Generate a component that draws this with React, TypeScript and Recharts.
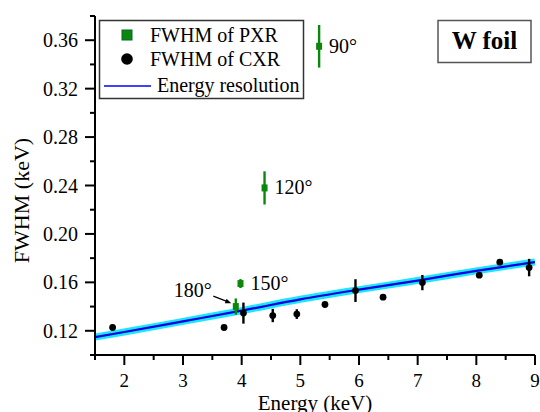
import React from 'react';
import { ComposedChart, XAxis, YAxis, Line, Scatter, ErrorBar } from 'recharts';

// --- CXR (characteristic X-rays) ---
const CXR_E = [1.8, 3.7, 4.03, 4.53, 4.94, 5.42, 5.94, 6.41, 7.08, 8.05, 8.4, 8.9];
const CXR_FWHM = [0.1227, 0.1227, 0.1346, 0.1326, 0.1338, 0.1417, 0.1532, 0.1478, 0.1598, 0.1659, 0.1767, 0.1722];
const CXR_ERR = [0, 0, 0.0087, 0.0055, 0.004, 0, 0.0094, 0, 0.0063, 0, 0, 0.0072];

// --- PXR (parametric X-rays) at four observation angles ---
const PXR_E = [5.32, 4.39, 3.98, 3.9];
const PXR_FWHM = [0.355, 0.238, 0.159, 0.14];
const PXR_ERR = [0.0176, 0.0137, 0.0037, 0.0067];
const PXR_ANGLE = ['90°', '120°', '150°', '180°'];

// --- detector energy resolution curve ---
const RES_E = [1.5, 2, 3, 4, 5, 6, 7, 8, 9];
const RES_FWHM = [0.1148, 0.119, 0.1278, 0.1366, 0.146, 0.154, 0.1615, 0.1695, 0.1768];

// --- ticks ---
const X_TICKS = [1.5, 2, 2.5, 3, 3.5, 4, 4.5, 5, 5.5, 6, 6.5, 7, 7.5, 8, 8.5, 9];
const X_LABELS = [2, 3, 4, 5, 6, 7, 8, 9];
const Y_TICKS = [0.1, 0.12, 0.14, 0.16, 0.18, 0.2, 0.22, 0.24, 0.26, 0.28, 0.3, 0.32, 0.34, 0.36, 0.38];
const Y_LABELS = [0.12, 0.16, 0.2, 0.24, 0.28, 0.32, 0.36];

const cxrData = CXR_E.map((x, i) => ({ x, y: CXR_FWHM[i], err: CXR_ERR[i] }));
const pxrData = PXR_E.map((x, i) => ({ x, y: PXR_FWHM[i], err: PXR_ERR[i], angle: PXR_ANGLE[i] }));
const resData = RES_E.map((x, i) => ({ x, y: RES_FWHM[i] }));

const FONT = 'Liberation Serif, DejaVu Serif, serif';
const GREEN = '#0b870b';

const isMajorX = (v: number) => X_LABELS.some(l => Math.abs(l - v) < 1e-9);
const isMajorY = (v: number) => Y_LABELS.some(l => Math.abs(l - v) < 1e-9);

const txt = { fill: '#000', style: { fontFamily: FONT } };

// ticks drawn by hand so majors/minors get different lengths, all pointing outwards
const BottomTick = ({ x, y, payload }: any) => {
  const major = isMajorX(payload.value);
  return (
    <g>
      <line x1={x} y1={y} x2={x} y2={y + (major ? 10 : 5)} stroke="#000" strokeWidth={2} />
      {major && (
        <text x={x} y={y + 31.5} textAnchor="middle" fontSize={19} {...txt}>
          {payload.value}
        </text>
      )}
    </g>
  );
};

const TopTick = ({ x, y, payload }: any) => {
  const major = isMajorX(payload.value);
  return <line x1={x} y1={y} x2={x} y2={y - (major ? 10 : 5)} stroke="#000" strokeWidth={2} />;
};

const LeftTick = ({ x, y, payload }: any) => {
  const major = isMajorY(payload.value);
  return (
    <g>
      <line x1={x} y1={y} x2={x - (major ? 10 : 5)} y2={y} stroke="#000" strokeWidth={2} />
      {major && (
        <text x={x - 17} y={y + 7} textAnchor="end" fontSize={20} {...txt}>
          {payload.value.toFixed(2)}
        </text>
      )}
    </g>
  );
};

const RightTick = ({ x, y, payload }: any) => {
  const major = isMajorY(payload.value);
  return <line x1={x} y1={y} x2={x + (major ? 10 : 5)} y2={y} stroke="#000" strokeWidth={2} />;
};

const CxrDot = ({ cx, cy }: any) => <circle cx={cx} cy={cy} r={3.4} fill="#000" />;

const PxrMark = ({ cx, cy, payload }: any) => {
  const is180 = payload.angle === '180°';
  return (
    <g>
      <rect x={cx - 3} y={cy - 3.5} width={6} height={7} fill={GREEN} />
      {is180 ? (
        <g>
          <text x={cx - 24} y={cy - 9.5} textAnchor="end" fontSize={20} {...txt}>
            {payload.angle}
          </text>
          <line x1={cx - 22.5} y1={cy - 10.5} x2={cx - 9} y2={cy - 5.3} stroke="#000" strokeWidth={1.3} />
          <polygon
            points={`${cx - 4.5},${cy - 3.4} ${cx - 11},${cy - 3.2} ${cx - 9.2},${cy - 7.8}`}
            fill="#000"
          />
        </g>
      ) : (
        <text x={cx + 10} y={cy + 6.5} fontSize={20} {...txt}>
          {payload.angle}
        </text>
      )}
    </g>
  );
};

const App: React.FC = () => {
  return (
    <div style={{ position: 'relative', width: 540, height: 412, fontFamily: FONT, background: '#fff' }}>
      <style>{'body{margin:0}'}</style>
      <ComposedChart width={540} height={412} margin={{ top: 16, right: 5, bottom: 0, left: 0 }}>
        <XAxis
          xAxisId="b"
          dataKey="x"
          type="number"
          domain={[1.5, 9]}
          ticks={X_TICKS}
          interval={0}
          allowDataOverflow
          tickSize={0}
          tickMargin={0}
          tickLine={false}
          axisLine={{ stroke: '#000', strokeWidth: 2 }}
          tick={(p: any) => <BottomTick {...p} />}
          height={57}
          label={{
            content: ({ viewBox }: any) => (
              <text x={viewBox.x + viewBox.width / 2} y={viewBox.y + 54.5} textAnchor="middle" fontSize={21} {...txt}>
                Energy (keV)
              </text>
            ),
          }}
        />
        <XAxis
          xAxisId="t"
          dataKey="x"
          type="number"
          orientation="top"
          domain={[1.5, 9]}
          ticks={X_TICKS}
          interval={0}
          allowDataOverflow
          tickSize={0}
          tickMargin={0}
          tickLine={false}
          axisLine={{ stroke: '#000', strokeWidth: 2 }}
          tick={(p: any) => <TopTick {...p} />}
          height={0}
        />
        <YAxis
          yAxisId="l"
          type="number"
          domain={[0.1, 0.38]}
          ticks={Y_TICKS}
          interval={0}
          allowDataOverflow
          tickSize={0}
          tickMargin={0}
          tickLine={false}
          axisLine={{ stroke: '#000', strokeWidth: 2 }}
          tick={(p: any) => <LeftTick {...p} />}
          width={95}
          label={{
            content: ({ viewBox }: any) => {
              const lx = viewBox.x + 29;
              const ly = viewBox.y + viewBox.height / 2 + 15;
              return (
                <text
                  x={lx}
                  y={ly}
                  transform={`rotate(-90 ${lx} ${ly})`}
                  textAnchor="middle"
                  fontSize={22}
                  {...txt}
                >
                  FWHM (keV)
                </text>
              );
            },
          }}
        />
        <YAxis
          yAxisId="r"
          type="number"
          orientation="right"
          domain={[0.1, 0.38]}
          ticks={Y_TICKS}
          interval={0}
          allowDataOverflow
          tickSize={0}
          tickMargin={0}
          tickLine={false}
          axisLine={{ stroke: '#000', strokeWidth: 2 }}
          tick={(p: any) => <RightTick {...p} />}
          width={0}
        />

        {/* energy resolution: cyan band under a blue line */}
        <Line
          data={resData}
          dataKey="y"
          xAxisId="b"
          yAxisId="l"
          type="monotone"
          stroke="#1ee6fa"
          strokeWidth={7}
          dot={false}
          isAnimationActive={false}
        />
        <Line
          data={resData}
          dataKey="y"
          xAxisId="b"
          yAxisId="l"
          type="monotone"
          stroke="#0000e0"
          strokeWidth={2.2}
          dot={false}
          isAnimationActive={false}
        />

        <Scatter data={cxrData} dataKey="y" xAxisId="b" yAxisId="l" shape={CxrDot} isAnimationActive={false}>
          <ErrorBar dataKey="err" direction="y" width={0} stroke="#000" strokeWidth={2.4} />
        </Scatter>
        <Scatter data={pxrData} dataKey="y" xAxisId="b" yAxisId="l" shape={PxrMark} isAnimationActive={false}>
          <ErrorBar dataKey="err" direction="y" width={0} stroke={GREEN} strokeWidth={2.4} />
        </Scatter>
      </ComposedChart>

      {/* legend and panel tag */}
      <svg width={540} height={412} style={{ position: 'absolute', left: 0, top: 0, pointerEvents: 'none' }}>
        <rect x={99.5} y={20.5} width={204} height={78} fill="#fff" stroke="#333" strokeWidth={1.5} />
        <rect x={122} y={30} width={10} height={10} fill={GREEN} stroke="#063" strokeWidth={1} />
        <text x={150} y={41.5} fontSize={20} {...txt}>FWHM of PXR</text>
        <circle cx={127} cy={59} r={5.8} fill="#000" />
        <text x={150} y={65.5} fontSize={20} {...txt}>FWHM of CXR</text>
        <line x1={104} y1={86} x2={151} y2={86} stroke="#0000ff" strokeWidth={1.6} />
        <text x={157} y={91.5} fontSize={20} {...txt}>Energy resolution</text>

        <rect x={438} y={20.5} width={93} height={42} fill="#fff" stroke="#555" strokeWidth={1.5} />
        <text x={484.5} y={49} textAnchor="middle" fontSize={25} fontWeight="bold" {...txt}>
          W foil
        </text>
      </svg>
    </div>
  );
};

export default App;
